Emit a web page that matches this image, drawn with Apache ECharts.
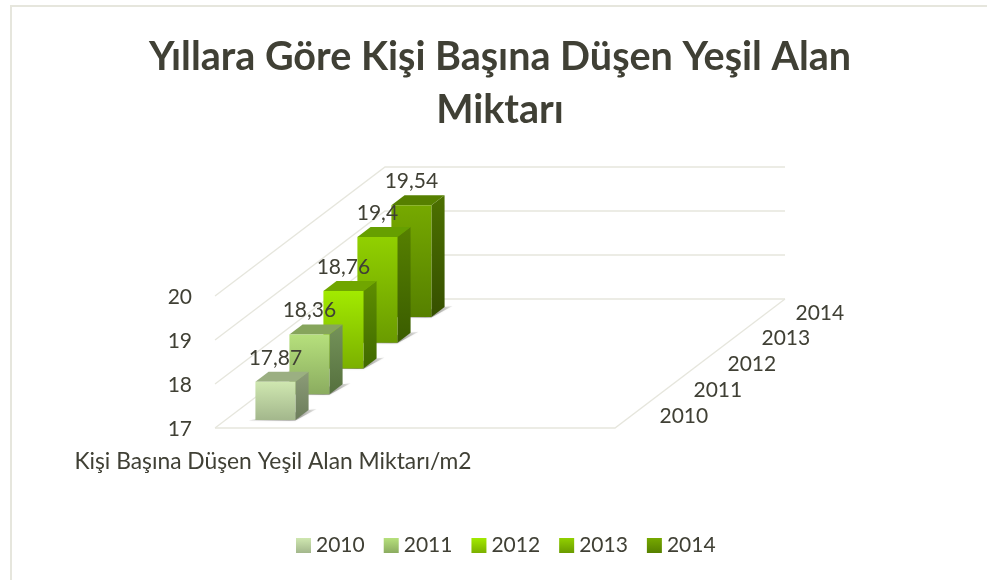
<!DOCTYPE html>
<html>
<head>
<meta charset="utf-8">
<style>html,body{margin:0;padding:0;background:#fff}#c{width:987px;height:580px}</style>
<script src="https://cdn.jsdelivr.net/npm/echarts@6/dist/echarts.min.js"></script>
</head>
<body>
<div id="c"></div>
<script>
const titleText = 'Yıllara Göre Kişi Başına Düşen Yeşil Alan\nMiktarı';
const categories = ['Kişi Başına Düşen Yeşil Alan Miktarı/m2', '', '', ''];
const years = ['2010', '2011', '2012', '2013', '2014'];
const values = [17.87, 18.36, 18.76, 19.4, 19.54];
const valueLabels = ['17,87', '18,36', '18,76', '19,4', '19,54'];
const yTicks = [17, 18, 19, 20];

// Oblique projection of the depth axis
const depthDX = 170, depthDY = 129;
const barW = 40, barDepth = 0.0775;
const FONT = 'Lato';
const TEXT = '#404035', GRID = '#E6E6DD';
const palette = [
  {ft:'#CFE7B0',fb:'#A3B78C',top:'#9BAF82',st:'#8C9C78',sb:'#6C7D5B'},
  {ft:'#B6E07C',fb:'#8BAC60',top:'#86A55C',st:'#75935A',sb:'#55703E'},
  {ft:'#A2EA00',fb:'#7BB000',top:'#70A600',st:'#5E8E00',sb:'#406900'},
  {ft:'#91D000',fb:'#6A9B00',top:'#669F00',st:'#568000',sb:'#3A5C00'},
  {ft:'#76A900',fb:'#568000',top:'#568000',st:'#4C7000',sb:'#365000'}
];
const vgrad = (a, b) => new echarts.graphic.LinearGradient(0, 0, 0, 1, [{offset:0,color:a},{offset:1,color:b}]);

function project(api, cat, depth, v, dx) {
  const p = api.coord([cat, v]);
  return [p[0] + (dx || 0) + depth * depthDX, p[1] - depth * depthDY];
}
const lastCat = categories.length - 1;
const halfBand = api => api.size([1, 0])[0] / 2;

function barRenderer(idx) {
  return function (params, api) {
    const v = api.value(1), c = palette[idx];
    const d0 = (idx + 0.5) / years.length - barDepth / 2, d1 = d0 + barDepth;
    const base = yTicks[0];
    const at = (dx, d, val) => project(api, 0, d, val, dx);
    const h = barW / 2;
    const fbl = at(-h, d0, base), fbr = at(h, d0, base), ftl = at(-h, d0, v), ftr = at(h, d0, v);
    const bbr = at(h, d1, base), btl = at(-h, d1, v), btr = at(h, d1, v);
    const tip = [bbr[0] + 8, bbr[1] - 1];
    return { type: 'group', children: [
      { type: 'polygon', shape: { points: [[fbl[0] - 7, fbl[1] + 0.5], [fbr[0], fbr[1] + 0.5], tip, bbr] },
        style: { fill: new echarts.graphic.LinearGradient(0, 0, 1, 0, [
          {offset:0,color:'rgba(70,70,60,0.15)'},{offset:0.6,color:'rgba(70,70,60,0.6)'},{offset:1,color:'rgba(70,70,60,0.1)'}]),
          shadowBlur: 2, shadowColor: 'rgba(90,90,80,0.4)' } },
      { type: 'polygon', shape: { points: [fbr, bbr, btr, ftr] }, style: { fill: vgrad(c.st, c.sb) } },
      { type: 'polygon', shape: { points: [ftl, ftr, btr, btl] }, style: { fill: c.top } },
      { type: 'polygon', shape: { points: [fbl, fbr, ftr, ftl] }, style: { fill: vgrad(c.ft, c.fb) } }
    ]};
  };
}

const series = [];
series.push({
  type: 'custom', name: 'walls', silent: true, z: 1,
  encode: { x: 0, y: 1 },
  data: yTicks.map(t => [0, t]),
  renderItem(params, api) {
    const v = api.value(1), hb = halfBand(api);
    const fl = project(api, 0, 0, v, -hb), bl = project(api, 0, 1, v, -hb), br = project(api, lastCat, 1, v, hb);
    const st = { stroke: GRID, lineWidth: 1.3, fill: null };
    const kids = [
      { type: 'polyline', shape: { points: [fl, bl, br] }, style: st }
    ];
    if (v === yTicks[0]) {
      const fr = project(api, lastCat, 0, v, hb);
      kids.push({ type: 'polyline', shape: { points: [fl, fr, br] }, style: st });
    }
    return { type: 'group', children: kids };
  }
});
for (let i = years.length - 1; i >= 0; i--) {
  series.push({
    type: 'custom', name: years[i], z: 2 + (years.length - i),
    itemStyle: { color: vgrad(palette[i].ft, palette[i].fb) },
    encode: { x: 0, y: 1 },
    data: [[0, values[i]]],
    renderItem: barRenderer(i)
  });
}
series.push({
  type: 'custom', name: 'labels', silent: true, z: 20,
  encode: { x: 0, y: 1 },
  data: values.map((v, i) => [0, v, i]),
  renderItem(params, api) {
    const i = api.value(2);
    const d0 = (i + 0.5) / years.length - barDepth / 2;
    const p = project(api, 0, d0, api.value(1));
    return { type: 'text', style: { text: valueLabels[i], x: p[0], y: p[1] - 24,
      align: 'center', verticalAlign: 'middle', fill: TEXT, font: '21px ' + FONT } };
  }
});
series.push({
  type: 'custom', name: 'depth', silent: true, z: 20,
  encode: { x: 0, y: 1 },
  data: years.map((y, i) => [0, yTicks[0], i]),
  renderItem(params, api) {
    const i = api.value(2);
    const p = project(api, lastCat, (i + 0.5) / years.length, yTicks[0], halfBand(api));
    return { type: 'text', style: { text: years[i], x: p[0] + 27.5, y: p[1] + 1,
      align: 'left', verticalAlign: 'middle', fill: TEXT, font: '21px ' + FONT } };
  }
});

const chart = echarts.init(document.getElementById('c'), null, { renderer: 'canvas' });
chart.setOption({
  animation: false,
  backgroundColor: '#fff',
  textStyle: { fontFamily: FONT },
  title: { text: titleText, left: 495, top: 26, textAlign: 'center',
    textStyle: { fontFamily: FONT, fontWeight: 'bold', fontSize: 39.5, lineHeight: 53, color: TEXT } },
  grid: { left: 215, width: 400, top: 296, height: 132, containLabel: false },
  xAxis: { type: 'category', data: categories,
    axisLine: { show: false }, axisTick: { show: false }, splitLine: { show: false },
    axisLabel: { interval: 0, margin: 22, fontFamily: FONT, fontSize: 22.8, color: TEXT, padding: [0, 0, 0, 16] } },
  yAxis: { type: 'value', min: 17, max: 20, interval: 1,
    axisLine: { show: false }, axisTick: { show: false }, splitLine: { show: false },
    axisLabel: { margin: 23, fontFamily: FONT, fontSize: 21, color: TEXT, verticalAlign: 'top', lineHeight: 21, padding: [-9, 0, 0, 0] } },
  legend: { left: 296, top: 535, padding: 0, icon: 'rect', itemWidth: 15, itemHeight: 15, itemGap: 19,
    data: years, textStyle: { fontFamily: FONT, fontSize: 21, color: TEXT } },
  graphic: [
    { type: 'polyline', silent: true, shape: { points: [[11, 580], [11, 6], [987, 6]] },
      style: { stroke: '#E6E6DD', lineWidth: 2, fill: null } }
  ],
  series
});
</script>
</body>
</html>
